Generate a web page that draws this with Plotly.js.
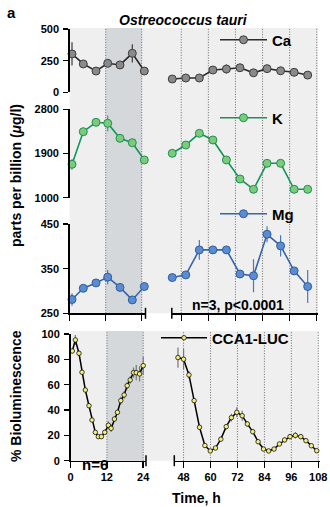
<!DOCTYPE html>
<html>
<head>
<meta charset="utf-8">
<script src="https://cdn.plot.ly/plotly-3.0.1.min.js"></script>
<style>
  html, body { margin: 0; padding: 0; background: #fff; }
  #chart { width: 330px; height: 507px; }
</style>
</head>
<body>
<div id="chart"></div>
<script>
// Sampling times (h)
const ionTimesDay1 = [0.77, 4.53, 8.77, 12.67, 16.77, 20.87, 24.87];
const ionTimesFree = [44, 50, 56, 62, 68, 74, 80, 86, 92, 98, 104];

// Calcium (ppb)
const caDay1 = [303, 224, 168, 229, 216, 308, 168];
const caDay1Err = [92, 8, 8, 8, 8, 72, 8];
const caFree = [105, 113, 113, 176, 184, 194, 154, 187, 170, 158, 136];
const caFreeErr = [8, 8, 8, 8, 35, 8, 8, 8, 8, 8, 8];

// Potassium (ppb)
const kDay1 = [1680, 2344, 2535, 2515, 2209, 2120, 1768];
const kDay1Err = [110, 40, 40, 160, 40, 40, 40];
const kFree = [1904, 2073, 2311, 2175, 1768, 1381, 1171, 1700, 1700, 1171, 1171];
const kFreeErr = [40, 40, 40, 40, 40, 70, 40, 40, 40, 40, 70];

// Magnesium (ppb)
const mgDay1 = [281, 306, 318, 331, 308, 280, 310];
const mgDay1Err = [14, 4, 4, 16, 4, 4, 4];
const mgFree = [330, 336, 392, 392, 392, 338, 334, 427, 401, 345, 310];
const mgFreeErr = [4, 8, 22, 4, 4, 4, 37, 18, 24, 4, 37];

// CCA1-LUC bioluminescence (% of max)
const lucTimesDay1 = [0.6, 1.6, 2.8, 3.8, 4.9, 6.1, 7.1, 8.2, 9.2, 10.2, 11.3, 12.5,
  13.4, 14.5, 15.5, 16.6, 17.7, 18.7, 19.7, 20.8, 21.7, 22.8, 24.0];
const lucDay1 = [86.6, 95.3, 84.8, 69.8, 55.8, 43.4, 32.1, 22.4, 19, 19, 22.4, 28,
  25.6, 32.9, 38.2, 47.4, 51.9, 59.2, 63.7, 69.5, 69.5, 68.5, 75];
const lucDay1Err = [2, 4, 2, 1.5, 1.5, 1.5, 1.5, 1.5, 1.5, 1.5, 2, 3,
  3, 2, 2, 3, 3, 3, 3, 4, 6, 6, 7];
const lucTimesFree = [45.5, 48, 50.4, 52.7, 55.1, 57.5, 59.9, 62.2, 64.6, 67, 69.3,
  71.7, 74.1, 76.4, 78.8, 81.2, 83.6, 85.9, 88.3, 90.7, 93, 95.4, 97.8, 100.2,
  102.5, 104.9, 107.3];
const lucFree = [81.4, 80.1, 67.7, 47.4, 26.4, 12, 7.7, 10, 17, 26.9, 34,
  38.2, 35.5, 29, 22.9, 15, 9.2, 7.7, 9.2, 13.2, 16.4, 19, 20, 19,
  15.8, 11.8, 7.9];
const lucFreeErr = [8, 8, 3, 1.5, 1.5, 1.5, 1.5, 1.5, 1.5, 2, 3,
  4, 4, 2, 1.5, 1.5, 1.5, 1.5, 1.5, 1.5, 2, 2, 2.5, 2,
  1.5, 1.5, 1.5];

// Axis tick values
const day1Ticks = [0, 12, 24];
const freeTicks = [48, 60, 72, 84, 96, 108];
const caTicks = [0, 250, 500];
const kTicks = [1000, 1900, 2800];
const mgTicks = [250, 350, 450];
const lucTicks = [0, 20, 40, 60, 80, 100];

// ---- layout helpers (pixel -> paper fraction) ----
const W = 330, H = 507;
const px = v => v / W;
const py = v => 1 - v / H;
const FONT = 'Liberation Sans, Arial, Helvetica, sans-serif';

const ionStyle = {
  ca: { line: '#2b2b2b', fill: '#8a8a8a', edge: '#3c3c3c', err: '#3c3c3c' },
  k:  { line: '#14945a', fill: '#7ccb7a', edge: '#1f8f55', err: '#3aa86a' },
  mg: { line: '#3566ad', fill: '#5b8bd0', edge: '#2f5e9e', err: '#4a78bd' }
};

function ionTrace(x, y, err, xa, ya, st, name, legend, show) {
  return {
    type: 'scatter', mode: 'lines+markers', x: x, y: y,
    xaxis: xa, yaxis: ya, name: name, legend: legend, showlegend: show,
    cliponaxis: false,
    line: { color: st.line, width: 1.6 },
    marker: { size: 8, color: st.fill, line: { color: st.edge, width: 1 } },
    error_y: { type: 'data', array: err, visible: true, color: st.err, thickness: 1.2, width: 0 }
  };
}

function lucTrace(x, y, err, xa, show) {
  return {
    type: 'scatter', mode: 'lines+markers', x: x, y: y,
    xaxis: xa, yaxis: 'y4', name: 'CCA1-LUC', legend: 'legend4', showlegend: show,
    cliponaxis: false,
    line: { color: '#000', width: 1.5 },
    marker: { size: 4.5, color: '#f3ef78', line: { color: '#111', width: 0.8 } },
    error_y: { type: 'data', array: err, visible: true, color: '#777', thickness: 1.2, width: 0 }
  };
}

const traces = [
  ionTrace(ionTimesDay1, caDay1, caDay1Err, 'x3', 'y', ionStyle.ca, 'Ca', 'legend', false),
  ionTrace(ionTimesFree, caFree, caFreeErr, 'x4', 'y', ionStyle.ca, 'Ca', 'legend', true),
  ionTrace(ionTimesDay1, kDay1, kDay1Err, 'x3', 'y2', ionStyle.k, 'K', 'legend2', false),
  ionTrace(ionTimesFree, kFree, kFreeErr, 'x4', 'y2', ionStyle.k, 'K', 'legend2', true),
  ionTrace(ionTimesDay1, mgDay1, mgDay1Err, 'x3', 'y3', ionStyle.mg, 'Mg', 'legend3', false),
  ionTrace(ionTimesFree, mgFree, mgFreeErr, 'x4', 'y3', ionStyle.mg, 'Mg', 'legend3', true),
  lucTrace(lucTimesDay1, lucDay1, lucDay1Err, 'x', false),
  lucTrace(lucTimesFree, lucFree, lucFreeErr, 'x2', true)
];

const axisBase = {
  showline: true, linecolor: '#000', linewidth: 1.5,
  ticks: 'outside', ticklen: 5, tickwidth: 1.5, tickcolor: '#000',
  showgrid: false, zeroline: false, fixedrange: true,
  tickfont: { family: FONT, size: 11, color: '#000', weight: 'bold' }
};

function yAxis(domTop, domBot, range, ticks, anchor) {
  return Object.assign({}, axisBase, {
    domain: [py(domBot), py(domTop)], range: range,
    tickmode: 'array', tickvals: ticks, anchor: anchor, ticklabelstandoff: 2
  });
}

function xAxis(left, right, range, ticks, anchor, labels) {
  return Object.assign({}, axisBase, {
    domain: [px(left), px(right)], range: range,
    tickmode: 'array', tickvals: ticks, anchor: anchor,
    showticklabels: labels, ticklen: 6
  });
}

// Plot-area geometry (pixels)
const topBox = { top: 28, bottom: 313.3 };
const botBox = { top: 331, bottom: 460.7 };

const legendFont = { family: FONT, size: 15, color: '#000', weight: 'bold' };
function legendAt(x, y, itemW) {
  return {
    x: px(x), y: py(y), xanchor: 'left', yanchor: 'middle',
    bgcolor: 'rgba(0,0,0,0)', borderwidth: 0, font: legendFont,
    itemwidth: itemW, tracegroupgap: 0, itemclick: false, itemdoubleclick: false
  };
}

const shapes = [];
// Light background behind both panels
shapes.push({ type: 'rect', xref: 'paper', yref: 'paper', layer: 'below',
  x0: px(69.7), x1: px(318), y0: py(topBox.bottom), y1: py(topBox.top),
  fillcolor: '#efefef', line: { width: 0 } });
shapes.push({ type: 'rect', xref: 'paper', yref: 'paper', layer: 'below',
  x0: px(70.5), x1: px(318.5), y0: py(botBox.bottom), y1: py(botBox.top),
  fillcolor: '#efefef', line: { width: 0 } });
// Subjective night of the entrainment day
shapes.push({ type: 'rect', xref: 'x3', yref: 'paper', layer: 'below',
  x0: 12, x1: 24, y0: py(topBox.bottom), y1: py(topBox.top),
  fillcolor: '#d5d8db', line: { width: 0 } });
shapes.push({ type: 'rect', xref: 'x', yref: 'paper', layer: 'below',
  x0: 12, x1: 24, y0: py(botBox.bottom), y1: py(botBox.top),
  fillcolor: '#d5d8db', line: { width: 0 } });
// 12 h guide lines
function guide(xref, v, box) {
  shapes.push({ type: 'line', xref: xref, yref: 'paper', layer: 'below',
    x0: v, x1: v, y0: py(box.bottom), y1: py(box.top),
    line: { color: '#4a4a4a', width: 0.8, dash: '1px,1.6px' } });
}
[12, 24].forEach(v => { guide('x3', v, topBox); guide('x', v, botBox); });
freeTicks.forEach(v => { guide('x4', v, topBox); guide('x2', v, botBox); });
// Axis-break end caps
function cap(x, y) {
  shapes.push({ type: 'line', xref: 'paper', yref: 'paper', layer: 'above',
    x0: px(x), x1: px(x), y0: py(y + 5.5), y1: py(y - 5.5),
    line: { color: '#000', width: 1.5 } });
}
cap(145.5, topBox.bottom); cap(171.8, topBox.bottom);
cap(146, botBox.bottom); cap(174.3, botBox.bottom);

function label(text, x, y, size, extra) {
  return Object.assign({
    text: text, x: px(x), y: py(y), xref: 'paper', yref: 'paper',
    xanchor: 'center', yanchor: 'middle', showarrow: false,
    font: Object.assign({ family: FONT, size: size, weight: 'bold', color: '#000' },
      (extra && extra.font) || {})
  }, extra && extra.textangle !== undefined ? { textangle: extra.textangle } : {});
}

const annotations = [
  label('a', 11, 12, 15),
  label('Ostreococcus tauri', 183, 20, 14, { font: { style: 'italic' } }),
  label('parts per billion (<i>μ</i>g/l)', 16, 176, 14, { textangle: -90 }),
  label('% Bioluminescence', 16, 396, 14, { textangle: -90 }),
  label('n=3, p&lt;0.0001', 238, 305, 14),
  label('n=6', 95, 464.5, 15),
  label('Time, h', 196, 498, 14)
];

const layout = {
  width: W, height: H,
  margin: { l: 0, r: 0, t: 0, b: 0, pad: 0 },
  paper_bgcolor: '#fff', plot_bgcolor: 'rgba(0,0,0,0)',
  font: { family: FONT, color: '#000' },
  xaxis:  xAxis(70.5, 146, [0, 24.92], day1Ticks, 'y4', true),
  xaxis2: xAxis(174.3, 320, [43.87, 108.76], freeTicks, 'y4', true),
  xaxis3: xAxis(69.7, 145.5, [0, 25.27], day1Ticks, 'y3', false),
  xaxis4: xAxis(171.8, 318, [43.8, 108.57], freeTicks, 'y3', false),
  yaxis:  yAxis(29, 92.3, [0, 500], caTicks, 'x3'),
  yaxis2: yAxis(109.3, 197.7, [1000, 2800], kTicks, 'x3'),
  yaxis3: yAxis(224, 313.3, [250, 450], mgTicks, 'x3'),
  yaxis4: yAxis(334, 460.7, [0, 100], lucTicks, 'x'),
  legend:  legendAt(215, 40, 47),
  legend2: legendAt(215, 118, 47),
  legend3: legendAt(215, 214, 47),
  legend4: legendAt(156, 338, 46),
  shapes: shapes,
  annotations: annotations
};

Plotly.newPlot('chart', traces, layout, { staticPlot: true, displayModeBar: false });
</script>
</body>
</html>
